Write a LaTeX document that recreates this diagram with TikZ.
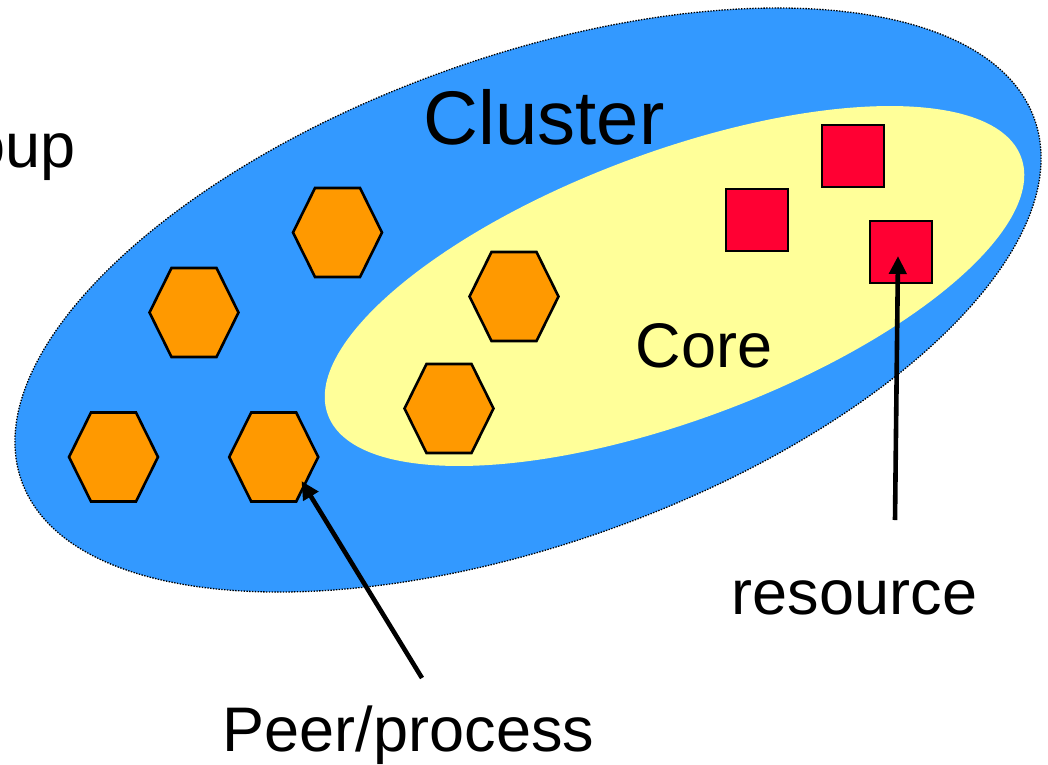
\documentclass[tikz,border=0pt]{standalone}
\usepackage{fontspec}
\setmainfont{Liberation Sans}
\usetikzlibrary{arrows.meta}
\definecolor{clusterblue}{HTML}{3399FF}
\definecolor{coreyellow}{HTML}{FFFF99}
\definecolor{peerorange}{HTML}{FF9900}
\definecolor{resred}{HTML}{FF0033}
\tikzset{
  hexa/.style={fill=peerorange, draw=black, line width=2.6pt, line join=miter},
  hex/.pic={\draw[hexa] (-44.5,0) -- (-22.5,-44.5) -- (22.5,-44.5) -- (44.5,0) -- (22.5,44.5) -- (-22.5,44.5) -- cycle;},
  res/.style={draw=black, fill=resred, line width=2.2pt, minimum size=62pt, inner sep=0pt},
  lbl/.style={font=\fontsize{63}{70}\selectfont, inner sep=0pt},
  biglbl/.style={font=\fontsize{76}{84}\selectfont, inner sep=0pt},
  pointer/.style={line width=4.6pt, -{Triangle[length=18pt,width=17pt]}},
  clusterborder/.style={draw=black, line width=1.3pt, dash pattern=on 1.4pt off 1.4pt}
}
\begin{document}
\begin{tikzpicture}[x=1pt,y=-1pt]
\useasboundingbox (0,0) rectangle (1048,764);
% cluster
\fill[clusterblue, rotate around={19.66:(528,300)}] (528,300) ellipse [x radius=537.8, y radius=243.4];
\draw[clusterborder, rotate around={19.66:(528,300)}] (528,300) ellipse [x radius=537.8, y radius=243.4];
% core
\fill[coreyellow, rotate around={20.4:(674.5,286)}] (674.5,286) ellipse [x radius=369.8, y radius=134];
% peers
\pic at (337.5,232.5) {hex};
\pic at (194,312.5) {hex};
\pic at (514,296.5) {hex};
\pic at (449,408.5) {hex};
\pic at (113.5,457) {hex};
\pic at (273.7,457) {hex};
% resources
\node[res] (s1) at (853,156) {};
\node[res] (s2) at (757,220) {};
\node[res] (s3) at (901,252) {};
% labels
\node[biglbl, anchor=base] (cluster) at (544,144) {Cluster};
\node[lbl, anchor=base] (core) at (704,367) {Core};
\node[lbl, anchor=base] (resource) at (854.5,614) {resource};
\node[lbl, anchor=base] (peer) at (408.5,751) {Peer/process};
\node[lbl, anchor=base east] (group) at (76,167) {oup};
% connectors
\coordinate (h6tip) at (301.5,481);
\coordinate (peertail) at (422,678);
\coordinate (restail) at (895,520);
\coordinate (s3tip) at (898,256);
\draw[pointer] (peertail) -- (h6tip);
\draw[pointer] (restail) -- (s3tip);
\end{tikzpicture}
\end{document}
